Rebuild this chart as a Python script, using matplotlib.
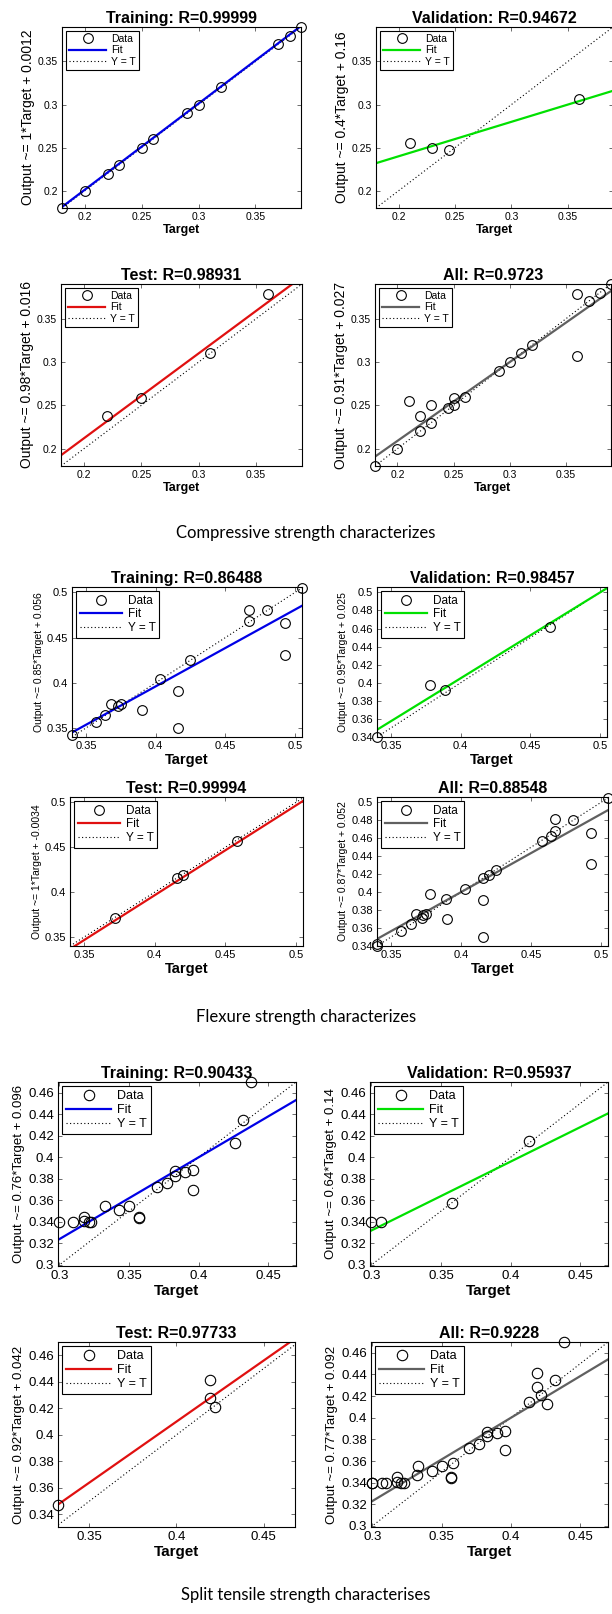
import matplotlib
matplotlib.use('Agg')
import matplotlib.pyplot as plt
from matplotlib.ticker import FormatStrFormatter

plt.rcParams['font.family'] = ['Liberation Sans', 'DejaVu Sans']

# ---- compressive strength (targets t, outputs y) ----
c_train_t = [0.18, 0.20, 0.22, 0.23, 0.25, 0.26, 0.29, 0.30, 0.32, 0.37, 0.38, 0.39]
c_train_y = [0.18, 0.20, 0.22, 0.23, 0.25, 0.26, 0.29, 0.30, 0.32, 0.37, 0.38, 0.39]
c_val_t = [0.21, 0.23, 0.245, 0.36]
c_val_y = [0.255, 0.25, 0.247, 0.307]
c_test_t = [0.22, 0.25, 0.31, 0.36]
c_test_y = [0.238, 0.258, 0.31, 0.378]
c_fit = [(1, 0.0012), (0.4, 0.16), (0.98, 0.016), (0.91, 0.027)]
c_r = ['0.99999', '0.94672', '0.98931', '0.9723']

# ---- flexure strength ----
f_train_t = [0.34, 0.357, 0.364, 0.368, 0.373, 0.375, 0.39, 0.403, 0.416, 0.416, 0.425,
             0.467, 0.467, 0.48, 0.493, 0.493, 0.505]
f_train_y = [0.342, 0.357, 0.364, 0.376, 0.374, 0.376, 0.37, 0.404, 0.391, 0.35, 0.425,
             0.468, 0.481, 0.48, 0.466, 0.431, 0.505]
f_val_t = [0.34, 0.378, 0.389, 0.464]
f_val_y = [0.34, 0.398, 0.392, 0.462]
f_test_t = [0.372, 0.416, 0.42, 0.458]
f_test_y = [0.371, 0.416, 0.419, 0.457]
f_fit = [(0.85, 0.056), (0.95, 0.025), (1, -0.0034), (0.87, 0.052)]
f_r = ['0.86488', '0.98457', '0.99994', '0.88548']

# ---- split tensile strength ----
s_train_t = [0.30, 0.31, 0.318, 0.318, 0.321, 0.323, 0.333, 0.343, 0.35, 0.357, 0.357,
             0.37, 0.377, 0.383, 0.383, 0.39, 0.396, 0.396, 0.426, 0.432, 0.438]
s_train_y = [0.34, 0.34, 0.345, 0.341, 0.34, 0.34, 0.355, 0.351, 0.355, 0.344, 0.345,
             0.372, 0.376, 0.383, 0.387, 0.386, 0.388, 0.37, 0.413, 0.435, 0.47]
s_val_t = [0.30, 0.307, 0.358, 0.413]
s_val_y = [0.34, 0.34, 0.358, 0.415]
s_test_t = [0.332, 0.419, 0.419, 0.422]
s_test_y = [0.347, 0.441, 0.428, 0.421]
s_fit = [(0.76, 0.096), (0.64, 0.14), (0.92, 0.042), (0.77, 0.092)]
s_r = ['0.90433', '0.95937', '0.97733', '0.9228']

KINDS = ['Training', 'Validation', 'Test', 'All']
COLORS = {'Training': '#0000e6', 'Validation': '#00e000', 'Test': '#e01010', 'All': '#606060'}

W, H = 612, 1614
fig = plt.figure(figsize=(W / 100, H / 100), dpi=100)


def rect(l, t, r, b):
    return [l / W, 1 - b / H, (r - l) / W, (b - t) / H]


def draw_panel(box, kind, r, t, y, fit, xlim, ylim, xticks, yticks, fs):
    ax = fig.add_axes(rect(*box))
    slope, icpt = fit
    lo, hi = min(xlim[0], ylim[0]), max(xlim[1], ylim[1])
    hy, = ax.plot([lo, hi], [lo, hi], color='black', lw=0.8, ls=(0, (1, 2.2)), label='Y = T', zorder=1)
    hf, = ax.plot(list(xlim), [slope * xlim[0] + icpt, slope * xlim[1] + icpt],
                  color=COLORS[kind], lw=1.6, label='Fit', zorder=2)
    hd, = ax.plot(t, y, 'o', mfc='none', mec='black', ms=fs['ms'], mew=0.8,
                  label='Data', clip_on=False, zorder=3)
    ax.set_xlim(xlim)
    ax.set_ylim(ylim)
    ax.set_xticks(xticks)
    ax.set_yticks(yticks)
    ax.xaxis.set_major_formatter(FormatStrFormatter('%g'))
    ax.yaxis.set_major_formatter(FormatStrFormatter('%g'))
    ax.tick_params(direction='in', length=3, width=0.6, top=True, right=True,
                   labelsize=fs['tick'], pad=3, color='#555555')
    for s in ax.spines.values():
        s.set_linewidth(0.8)
    ax.set_title(f'{kind}: R={r}', fontweight='bold', fontsize=fs['title'], pad=3)
    ax.set_xlabel('Target', fontweight='bold', fontsize=fs['xlabel'], labelpad=1)
    ax.set_ylabel(f'Output ~= {slope:g}*Target + {icpt:g}', fontsize=fs['ylabel'], labelpad=2)
    leg = ax.legend(handles=[hd, hf, hy], loc='upper left', fontsize=fs['legend'],
                    numpoints=1, handlelength=3.6, handletextpad=0.5, labelspacing=0.15,
                    borderpad=0.3, borderaxespad=0.35, fancybox=False, framealpha=1)
    leg.get_frame().set_edgecolor('black')
    leg.get_frame().set_linewidth(0.8)
    return ax


def draw_group(boxes, data, fits, rs, lims, ticks, fs):
    for box, kind, (t, y), fit, r, (xl, yl), (xt, yt) in zip(boxes, KINDS, data, fits, rs, lims, ticks):
        draw_panel(box, kind, r, t, y, fit, xl, yl, xt, yt, fs)


# compressive
c_data = [(c_train_t, c_train_y), (c_val_t, c_val_y), (c_test_t, c_test_y),
          (c_train_t + c_val_t + c_test_t, c_train_y + c_val_y + c_test_y)]
c_lim = (0.18, 0.39)
c_ticks = [0.2, 0.25, 0.3, 0.35]
draw_group([(62, 27, 301, 208), (376, 27, 613, 208), (61, 284, 302, 466), (375, 284, 611, 466)],
           c_data, c_fit, c_r, [(c_lim, c_lim)] * 4, [(c_ticks, c_ticks)] * 4,
           dict(title=11.5, tick=7.5, xlabel=9, ylabel=10, legend=7.5, ms=7))

# flexure
f_data = [(f_train_t, f_train_y), (f_val_t, f_val_y), (f_test_t, f_test_y),
          (f_train_t + f_val_t + f_test_t, f_train_y + f_val_y + f_test_y)]
f_xlim = (0.34, 0.505)
f_ylim = (0.34, 0.506)
f_xt = [0.35, 0.4, 0.45, 0.5]
f_yt_coarse = [0.35, 0.4, 0.45, 0.5]
f_yt_fine = [0.34, 0.36, 0.38, 0.4, 0.42, 0.44, 0.46, 0.48, 0.5]
draw_group([(72, 587, 302, 737), (377, 587, 607, 737), (70, 797, 303, 946), (377, 797, 608, 946)],
           f_data, f_fit, f_r, [(f_xlim, f_ylim)] * 4,
           [(f_xt, f_yt_coarse), (f_xt, f_yt_fine), (f_xt, f_yt_coarse), (f_xt, f_yt_fine)],
           dict(title=11.5, tick=8, xlabel=10.5, ylabel=7.5, legend=8.5, ms=7))

# split tensile
s_data = [(s_train_t, s_train_y), (s_val_t, s_val_y), (s_test_t, s_test_y),
          (s_train_t + s_val_t + s_test_t, s_train_y + s_val_y + s_test_y)]
s_lim = (0.299, 0.47)
s_test_xlim = (0.332, 0.468)
s_test_ylim = (0.3305, 0.47)
s_xt = [0.3, 0.35, 0.4, 0.45]
s_yt = [0.3, 0.32, 0.34, 0.36, 0.38, 0.4, 0.42, 0.44, 0.46]
s_test_xt = [0.35, 0.4, 0.45]
s_test_yt = [0.34, 0.36, 0.38, 0.4, 0.42, 0.44, 0.46]
draw_group([(58, 1082, 296, 1266), (370, 1082, 608, 1266), (58, 1342, 295, 1527), (371, 1342, 608, 1527)],
           s_data, s_fit, s_r,
           [(s_lim, s_lim), (s_lim, s_lim), (s_test_xlim, s_test_ylim), (s_lim, s_lim)],
           [(s_xt, s_yt), (s_xt, s_yt), (s_test_xt, s_test_yt), (s_xt, s_yt)],
           dict(title=11.5, tick=9.5, xlabel=11, ylabel=9.5, legend=9, ms=7.5))

captions = ['Compressive strength characterizes', 'Flexure strength characterizes',
            'Split tensile strength characterises']
for cap, ypx in zip(captions, [533, 1017, 1595]):
    fig.text(0.5, 1 - ypx / H, cap, ha='center', va='center', fontsize=12, family='Lato')

fig.savefig('out.png', dpi=100)
